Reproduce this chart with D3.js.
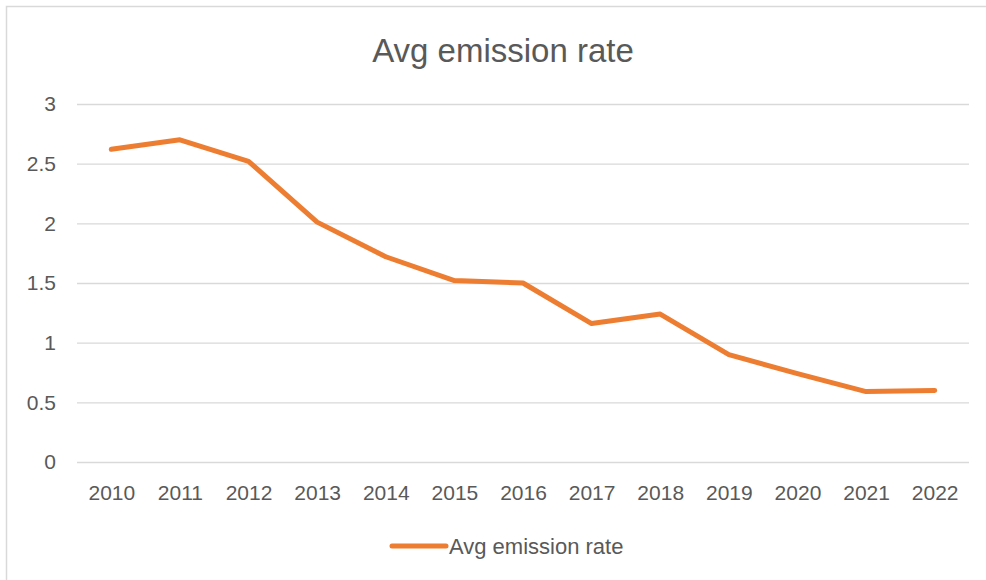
<!DOCTYPE html>
<html>
<head>
<meta charset="utf-8">
<script src="https://cdn.jsdelivr.net/npm/d3@7"></script>
<style>
  html, body { margin: 0; padding: 0; background: #fff; }
  text { font-family: "Liberation Sans", Arial, sans-serif; fill: #595959; }
</style>
</head>
<body>
<div id="chart"></div>
<script>
// data
const years = ["2010", "2011", "2012", "2013", "2014", "2015", "2016",
               "2017", "2018", "2019", "2020", "2021", "2022"]
const rates = [2.62, 2.70, 2.52, 2.01, 1.72, 1.52, 1.50,
               1.16, 1.24, 0.90, 0.74, 0.59, 0.60]
const yTicks = [0, 0.5, 1, 1.5, 2, 2.5, 3]
const seriesName = "Avg emission rate"

const W = 986, H = 580
const margin = {top: 104, right: 17, bottom: 118, left: 77}

const svg = d3.select("#chart").append("svg")
    .attr("width", W)
    .attr("height", H)

// chart frame (cropped on right and bottom)
svg.append("rect")
    .attr("x", 6.5)
    .attr("y", 6.5)
    .attr("width", 1200)
    .attr("height", 1200)
    .style("fill", "none")
    .style("stroke", "#d9d9d9")
    .style("stroke-width", 1.5)

const x = d3.scalePoint()
    .domain(years)
    .range([margin.left, W - margin.right])
    .padding(0.5)

const y = d3.scaleLinear()
    .domain([0, 3])
    .range([H - margin.bottom, margin.top])

svg.append("text")
    .attr("x", 503)
    .attr("y", 62)
    .attr("text-anchor", "middle")
    .style("font-size", "33px")
    .text("Avg emission rate")

// y grid + labels
const yAxis = svg.append("g")
    .attr("transform", "translate(" + margin.left + ",0)")
    .call(d3.axisLeft(y)
        .tickValues(yTicks)
        .tickSize(-(W - margin.left - margin.right))
        .tickPadding(21)
        .tickFormat(d3.format("")))
yAxis.select(".domain").remove()
yAxis.selectAll(".tick line")
    .style("stroke", "#d9d9d9")
    .style("stroke-width", 1.3)
yAxis.selectAll(".tick text")
    .style("font-size", "21px")
    .style("fill", "#595959")

// x labels
const xAxis = svg.append("g")
    .attr("transform", "translate(0," + (H - margin.bottom) + ")")
    .call(d3.axisBottom(x).tickSize(0).tickPadding(23))
xAxis.select(".domain").remove()
xAxis.selectAll(".tick text")
    .style("font-size", "21px")
    .style("fill", "#595959")

const line = d3.line()
    .x((d, i) => x(years[i]))
    .y(d => y(d))

svg.append("path")
    .datum(rates)
    .attr("d", line)
    .style("fill", "none")
    .style("stroke", "#ED7D31")
    .style("stroke-width", 5)
    .style("stroke-linejoin", "round")
    .style("stroke-linecap", "round")

// legend
const legend = svg.append("g")
    .attr("transform", "translate(392,546)")
legend.append("line")
    .attr("x1", 0).attr("x2", 54)
    .attr("y1", 0).attr("y2", 0)
    .style("stroke", "#ED7D31")
    .style("stroke-width", 5)
    .style("stroke-linecap", "round")
legend.append("text")
    .attr("x", 57)
    .attr("y", 8)
    .style("font-size", "22px")
    .text(seriesName)
</script>
</body>
</html>
